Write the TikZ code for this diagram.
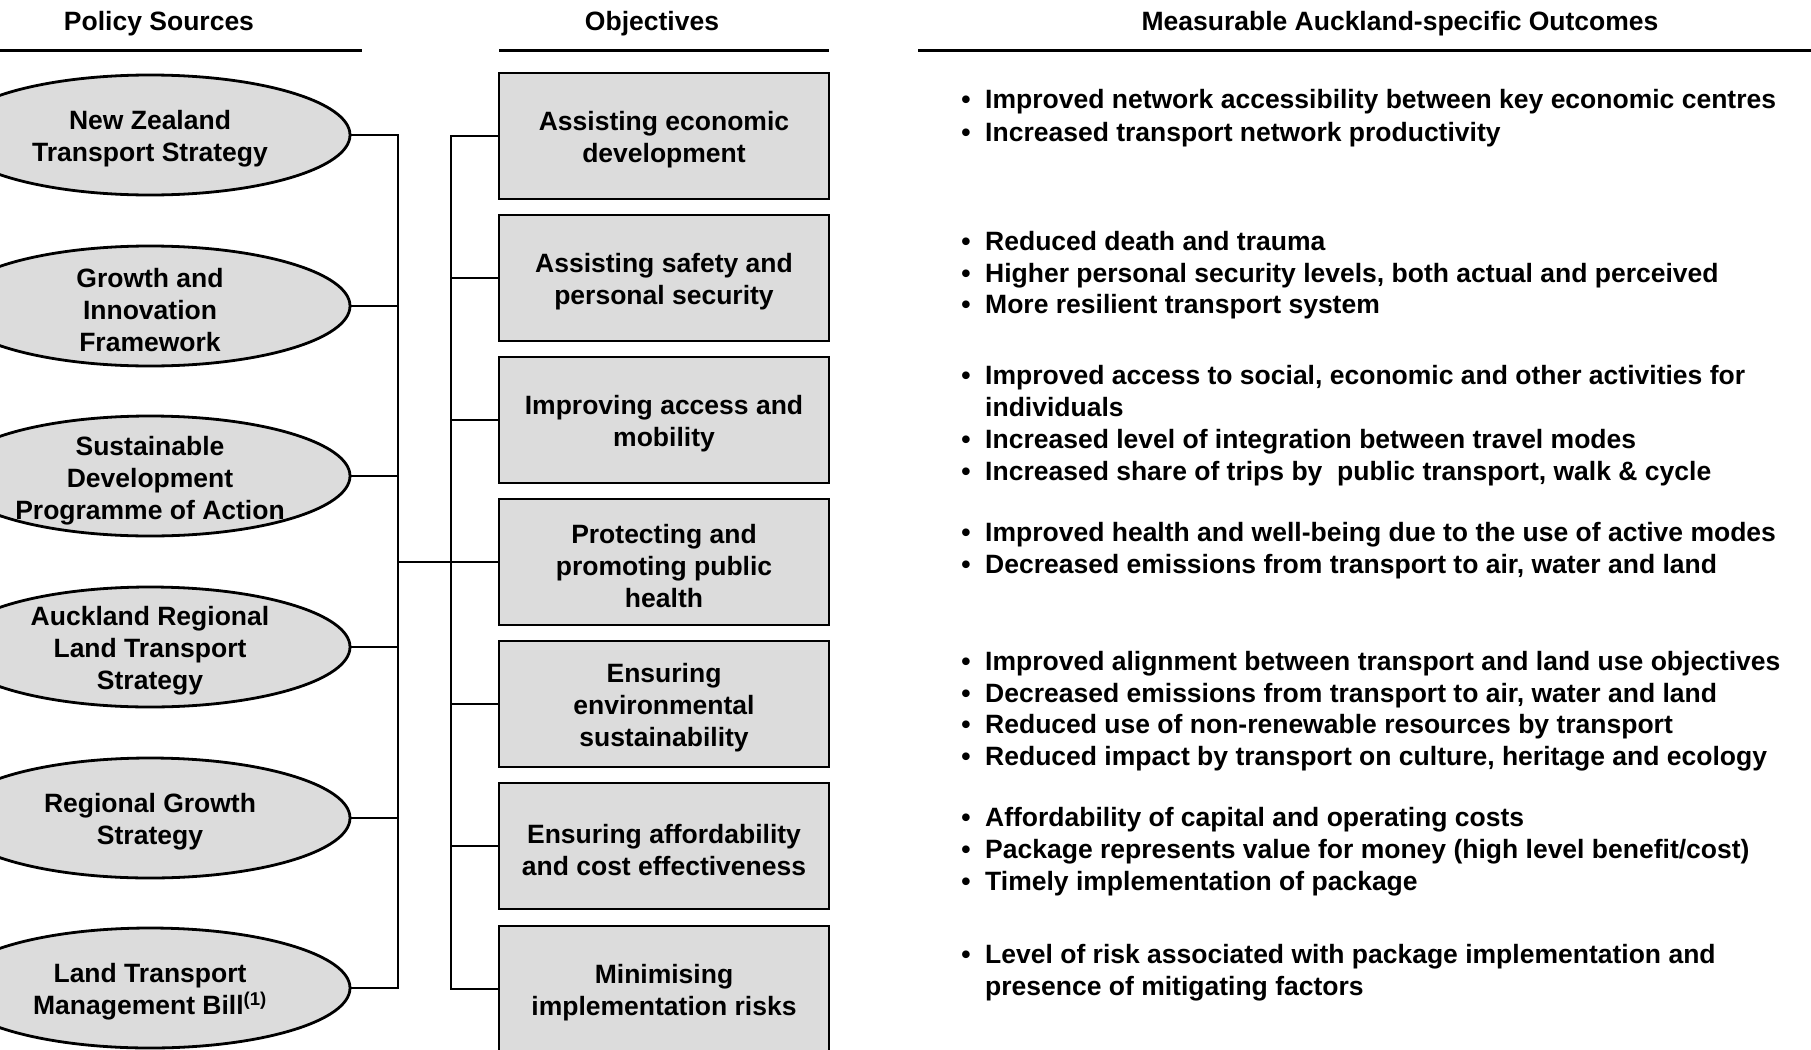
\documentclass[tikz,border=0pt]{standalone}
\usepackage{fontspec}
\setmainfont{Liberation Sans}
\usetikzlibrary{shapes.geometric}
\definecolor{shapefill}{HTML}{DCDCDC}

% one bulleted outcome line: name, baseline, text
\newcommand\outitem[3]{%
  \node[bulletmark] (#1b) at (966,#2) {•};
  \node[outcome] (#1) at (985,#2) {#3};}
% continuation line of the previous bullet
\newcommand\outcont[3]{%
  \node[outcome] (#1) at (985,#2) {#3};}

\begin{document}
\begin{tikzpicture}[x=1pt,y=-1pt,
  every node/.style={font=\fontsize{26.5}{32}\selectfont\bfseries, inner sep=0pt},
  header/.style={anchor=base},
  rulebar/.style={line width=3pt},
  source/.style={ellipse, draw, fill=shapefill, line width=2.8pt,
    minimum width=400pt, minimum height=120pt},
  objective/.style={rectangle, draw, fill=shapefill, line width=2.8pt,
    minimum width=330pt, minimum height=126pt},
  captext/.style={align=center, yshift=-4pt},
  link/.style={line width=2.4pt},
  bulletmark/.style={anchor=base},
  outcome/.style={anchor=base west},
]
\useasboundingbox (0,0) rectangle (1811,1049);

% column headers
\node[header] (h1) at (159,31) {Policy Sources};
\node[header] (h2) at (652,31) {Objectives};
\node[header] (h3) at (1400,31) {Measurable Auckland-specific Outcomes};
\draw[rulebar] (0,51) -- (362,51);
\draw[rulebar] (499,51) -- (829,51);
\draw[rulebar] (918,51) -- (1811,51);

% policy sources
\node[source] (s1) at (150,135) {};
\node[source] (s2) at (150,306) {};
\node[source] (s3) at (150,476) {};
\node[source] (s4) at (150,647) {};
\node[source] (s5) at (150,818) {};
\node[source] (s6) at (150,988) {};
\node[captext] (s1t) at (s1) {New Zealand\\Transport Strategy};
\node[captext] (s2t) at (s2) {Growth and\\Innovation\\Framework};
\node[captext] (s3t) at (150,477) {Sustainable\\Development\\Programme of Action};
\node[captext] (s4t) at (s4) {Auckland Regional\\Land Transport\\Strategy};
\node[captext] (s5t) at (s5) {Regional Growth\\Strategy};
\node[captext] (s6t) at (s6) {Land Transport\\Management Bill\textsuperscript{(1)}};

% objectives
\node[objective] (o1) at (664,136) {};
\node[objective] (o2) at (664,278) {};
\node[objective] (o3) at (664,420) {};
\node[objective] (o4) at (664,562) {};
\node[objective] (o5) at (664,704) {};
\node[objective] (o6) at (664,846) {};
\node[objective] (o7) at (664,989) {};
\node[captext] (o1t) at (o1) {Assisting economic\\development};
\node[captext] (o2t) at (o2) {Assisting safety and\\personal security};
\node[captext] (o3t) at (o3) {Improving access and\\mobility};
\node[captext] (o4t) at (o4) {Protecting and\\promoting public\\health};
\node[captext] (o5t) at (o5) {Ensuring\\environmental\\sustainability};
\node[captext] (o6t) at (o6) {Ensuring affordability\\and cost effectiveness};
\node[captext] (o7t) at (o7) {Minimising\\implementation risks};

% bus lines joining sources to objectives
\coordinate (lbus) at (398,135);
\coordinate (rbus) at (451,135);
\draw[link] (s1.east) -| (s6.east -| lbus) -- (s6.east);
\draw[link] (s2.east) -- (s2.east -| lbus);
\draw[link] (s3.east) -- (s3.east -| lbus);
\draw[link] (s4.east) -- (s4.east -| lbus);
\draw[link] (s5.east) -- (s5.east -| lbus);
\draw[link] (o1.west) -| (o7.west -| rbus) -- (o7.west);
\draw[link] (o2.west) -- (o2.west -| rbus);
\draw[link] (o3.west) -- (o3.west -| rbus);
\draw[link] (o4.west -| lbus) -- (o4.west);
\draw[link] (o5.west) -- (o5.west -| rbus);
\draw[link] (o6.west) -- (o6.west -| rbus);

% measurable outcomes
\outitem{m11}{108}{Improved network accessibility between key economic centres}
\outitem{m12}{141}{Increased transport network productivity}
\outitem{m21}{250}{Reduced death and trauma}
\outitem{m22}{282}{Higher personal security levels, both actual and perceived}
\outitem{m23}{313}{More resilient transport system}
\outitem{m31}{384}{Improved access to social, economic and other activities for}
\outcont{m31c}{416}{individuals}
\outitem{m32}{448}{Increased level of integration between travel modes}
\outitem{m33}{480}{Increased share of trips by\ \ public transport, walk \& cycle}
\outitem{m41}{541}{Improved health and well-being due to the use of active modes}
\outitem{m42}{573}{Decreased emissions from transport to air, water and land}
\outitem{m51}{670}{Improved alignment between transport and land use objectives}
\outitem{m52}{702}{Decreased emissions from transport to air, water and land}
\outitem{m53}{733}{Reduced use of non-renewable resources by transport}
\outitem{m54}{765}{Reduced impact by transport on culture, heritage and ecology}
\outitem{m61}{826}{Affordability of capital and operating costs}
\outitem{m62}{858}{Package represents value for money (high level benefit/cost)}
\outitem{m63}{890}{Timely implementation of package}
\outitem{m71}{963}{Level of risk associated with package implementation and}
\outcont{m71c}{995}{presence of mitigating factors}
\end{tikzpicture}
\end{document}
